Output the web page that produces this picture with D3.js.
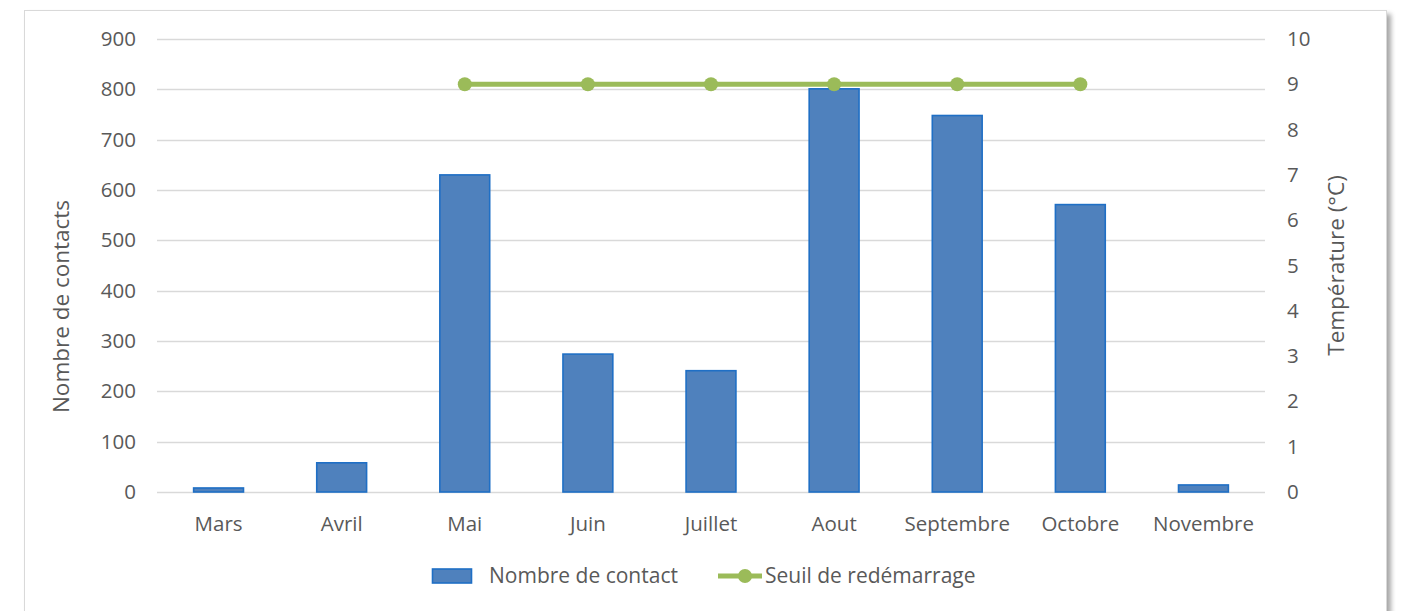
<!DOCTYPE html>
<html>
<head>
<meta charset="utf-8">
<script src="https://cdn.jsdelivr.net/npm/d3@7"></script>
<style>
  body { margin: 0; background: #fff; }
  text { font-family: "Open Sans", "Liberation Sans", sans-serif; fill: #595959; }
</style>
</head>
<body>
<div id="chart"></div>
<script>
// data
const months = ["Mars", "Avril", "Mai", "Juin", "Juillet", "Aout", "Septembre", "Octobre", "Novembre"];
const contacts = [8, 58, 630, 274, 241, 801, 748, 571, 14];
const seuil = [null, null, 9, 9, 9, 9, 9, 9, null];
const leftTicks = [0, 100, 200, 300, 400, 500, 600, 700, 800, 900];
const rightTicks = [0, 1, 2, 3, 4, 5, 6, 7, 8, 9, 10];

const W = 1402, H = 611;
const margin = {top: 39, right: 137, bottom: 119, left: 157},
    width = W - margin.left - margin.right,
    height = H - margin.top - margin.bottom;

const root = d3.select("#chart").append("svg")
    .attr("width", W)
    .attr("height", H);

// shadow + frame
const defs = root.append("defs");
const f = defs.append("filter").attr("id", "shadow").attr("x", "-5%").attr("y", "-5%").attr("width", "110%").attr("height", "120%");
f.append("feGaussianBlur").attr("in", "SourceAlpha").attr("stdDeviation", 2.5);
f.append("feOffset").attr("dx", 4).attr("dy", 4).attr("result", "b");
f.append("feComponentTransfer").append("feFuncA").attr("type", "linear").attr("slope", 0.35);
const fm = f.append("feMerge");
fm.append("feMergeNode");
fm.append("feMergeNode").attr("in", "SourceGraphic");

root.append("rect")
    .attr("x", 24.5).attr("y", 10.5)
    .attr("width", 1362).attr("height", 640)
    .attr("fill", "#fff")
    .attr("stroke", "#d9d9d9")
    .attr("filter", "url(#shadow)");

const svg = root.append("g")
    .attr("transform", `translate(${margin.left},${margin.top})`);

const x = d3.scaleBand()
    .domain(months)
    .range([0, width])
    .paddingInner(0.595)
    .paddingOuter(0.2975);

const y = d3.scaleLinear().domain([0, 900]).range([height, 0]);
const y2 = d3.scaleLinear().domain([0, 10]).range([height, 0]);

// gridlines
svg.append("g")
  .selectAll("line")
  .data(leftTicks)
  .join("line")
    .attr("x1", 0).attr("x2", width)
    .attr("y1", d => Math.round(y(d)) + 0.5).attr("y2", d => Math.round(y(d)) + 0.5)
    .attr("stroke", "#d9d9d9")
    .attr("stroke-width", 1.3);

// left axis
const yAxis = svg.append("g")
    .call(d3.axisLeft(y).tickValues(leftTicks).tickSize(0).tickPadding(21));
yAxis.select(".domain").remove();
yAxis.selectAll("text").style("font-size", "20.5px").attr("fill", "#595959");

// right axis
const y2Axis = svg.append("g")
    .attr("transform", `translate(${width},0)`)
    .call(d3.axisRight(y2).tickValues(rightTicks).tickSize(0).tickPadding(22));
y2Axis.select(".domain").remove();
y2Axis.selectAll("text").style("font-size", "20.5px").attr("fill", "#595959");

// x axis
const xAxis = svg.append("g")
    .attr("transform", `translate(0,${height})`)
    .call(d3.axisBottom(x).tickSize(0).tickPadding(24));
xAxis.select(".domain").remove();
xAxis.selectAll("text").style("font-size", "20.5px").attr("fill", "#595959");

// axis titles
svg.append("text")
    .attr("transform", `translate(-88,${height / 2 + 41}) rotate(-90)`)
    .attr("text-anchor", "middle")
    .style("font-size", "22.5px")
    .text("Nombre de contacts");

svg.append("text")
    .attr("transform", `translate(${width + 79},${height / 2}) rotate(-90)`)
    .attr("text-anchor", "middle")
    .style("font-size", "22.5px")
    .text("Température (°C)");

// bars
svg.append("g")
  .selectAll("rect")
  .data(months)
  .join("rect")
    .attr("x", d => x(d))
    .attr("y", (d, i) => y(contacts[i]))
    .attr("width", x.bandwidth())
    .attr("height", (d, i) => height - y(contacts[i]))
    .attr("fill", "#4f81bd")
    .attr("stroke", "#1f6fc5")
    .attr("stroke-width", 1.6);

// line
const pts = months.map((m, i) => ({m: m, v: seuil[i]})).filter(d => d.v != null);
const line = d3.line()
    .x(d => x(d.m) + x.bandwidth() / 2)
    .y(d => y2(d.v));

svg.append("path")
    .datum(pts)
    .attr("d", line)
    .attr("fill", "none")
    .attr("stroke", "#9bbb59")
    .attr("stroke-width", 5);

svg.append("g")
  .selectAll("circle")
  .data(pts)
  .join("circle")
    .attr("cx", d => x(d.m) + x.bandwidth() / 2)
    .attr("cy", d => y2(d.v))
    .attr("r", 7)
    .attr("fill", "#9bbb59");

// legend
const legend = root.append("g").attr("transform", "translate(432,576)");
legend.append("rect")
    .attr("x", 0.5).attr("y", -7)
    .attr("width", 39).attr("height", 14)
    .attr("fill", "#4f81bd")
    .attr("stroke", "#1f6fc5")
    .attr("stroke-width", 1.6);
legend.append("text")
    .attr("x", 57).attr("y", 0)
    .attr("dy", "0.35em")
    .style("font-size", "21px")
    .text("Nombre de contact");

legend.append("line")
    .attr("x1", 286).attr("x2", 330)
    .attr("y1", 0).attr("y2", 0)
    .attr("stroke", "#9bbb59")
    .attr("stroke-width", 5);
legend.append("circle")
    .attr("cx", 313).attr("cy", 0).attr("r", 7)
    .attr("fill", "#9bbb59");
legend.append("text")
    .attr("x", 333).attr("y", 0)
    .attr("dy", "0.35em")
    .style("font-size", "21px")
    .text("Seuil de redémarrage");
</script>
</body>
</html>
